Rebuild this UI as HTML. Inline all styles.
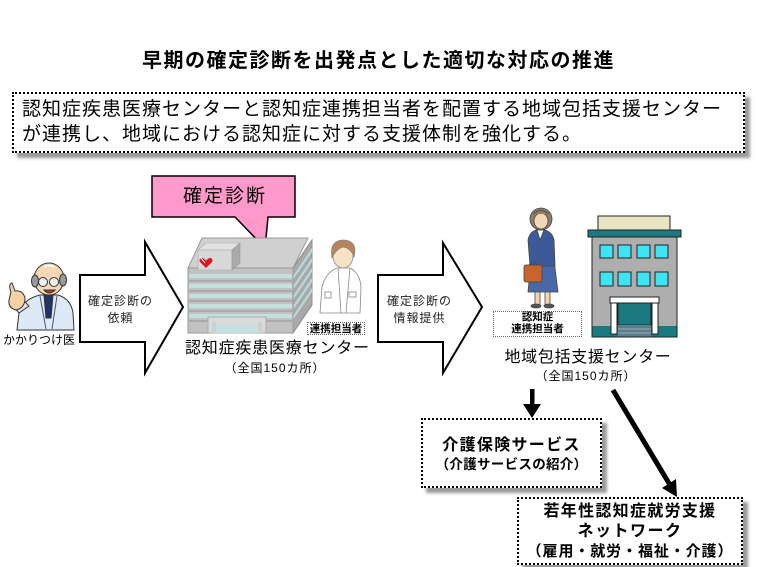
<!DOCTYPE html>
<html><head><meta charset="utf-8">
<style>
html,body{margin:0;padding:0;}
body{width:757px;height:567px;background:#fff;overflow:hidden;position:relative;font-family:"Liberation Sans","Noto Sans CJK JP",sans-serif;color:#000;}
.t{position:absolute;white-space:nowrap;line-height:1;}
.c{text-align:center;}
.box{position:absolute;box-sizing:border-box;border:2px dotted #000;background:#fff;box-shadow:5px 5px 3px #9a9a9a;}
.lbl{position:absolute;box-sizing:border-box;border:1px dotted #666;background:#fff;}
svg{position:absolute;left:0;top:0;}
</style></head>
<body>

<div class="t c" style="left:0;top:51px;width:757px;font-size:20px;letter-spacing:1.5px;font-weight:bold;">早期の確定診断を出発点とした適切な対応の推進</div>

<div class="box" style="left:12px;top:92px;width:733px;height:61px;"></div>
<div class="t" style="left:22px;top:100px;font-size:19px;letter-spacing:1px;">認知症疾患医療センターと認知症連携担当者を配置する地域包括支援センター</div>
<div class="t" style="left:22px;top:125px;font-size:19px;letter-spacing:1px;">が連携し、地域における認知症に対する支援体制を強化する。</div>

<svg width="757" height="567" viewBox="0 0 757 567">
  <!-- Callout -->
  <path d="M152,176 H295 V217 H268 L265,248 L235,217 H152 Z" fill="#ff99cc" stroke="#000" stroke-width="1.5"/>

  <!-- Arrow 1 -->
  <polygon points="80,275 145,275 145,242 183,307 145,373 145,342 80,342" fill="#fff" stroke="#000" stroke-width="2"/>
  <!-- Arrow 2 -->
  <polygon points="378,275 443,275 443,243 482,307 443,373 443,342 378,342" fill="#fff" stroke="#000" stroke-width="2"/>

  <!-- Doctor -->
  <g stroke="#333" stroke-width="1">
    <path d="M17,330 L19,313 Q23,299 40,295 L58,295 Q71,299 73,313 L74,330 Z" fill="#dde9f6"/>
    <path d="M44,295 L53,295 L51,318 L46,318 Z" fill="#223366"/>
    <line x1="40" y1="296" x2="46" y2="329" stroke="#556"/>
    <line x1="57" y1="296" x2="52" y2="329" stroke="#556"/>
    <path d="M19,313 L13,306 L22,299 L29,306 Z" fill="#dde9f6"/>
    <path d="M11,292 Q8,284 12,283 L15,291 Q23,290 25,298 Q25,308 16,310 Q8,308 9,300 Z" fill="#f6d2a6"/>
    <ellipse cx="49" cy="279" rx="15" ry="16" fill="#f6d8b4"/>
    <ellipse cx="35" cy="281" rx="3.5" ry="6" fill="#9a9a9a"/>
    <ellipse cx="63" cy="280" rx="3.5" ry="6" fill="#9a9a9a"/>
    <circle cx="43" cy="282" r="4.5" fill="#eef2f8"/>
    <circle cx="54" cy="282" r="4.5" fill="#eef2f8"/>
    <path d="M44,290 Q49,296 55,290 Z" fill="#c33"/>
    <path d="M44,267 Q49,264 54,267" fill="none" stroke="#fff" stroke-width="1.5"/>
  </g>

  <!-- Hospital -->
  <g>
    <polygon points="293,268 312,240 312,305 293,333" fill="#a9a9a9" stroke="#8a8a8a"/>
    <g fill="#b9d8d8">
      <polygon points="293,276 312,248 312,252 293,280"/>
      <polygon points="293,286 312,258 312,262 293,290"/>
      <polygon points="293,296 312,268 312,272 293,300"/>
      <polygon points="293,306 312,278 312,282 293,310"/>
      <polygon points="293,316 312,288 312,292 293,320"/>
    </g>
    <rect x="188" y="268" width="105" height="65" fill="#c2c2c2" stroke="#999"/>
    <g fill="#c4e0e0">
      <rect x="189" y="274" width="103" height="4"/>
      <rect x="189" y="284" width="103" height="4"/>
      <rect x="189" y="294" width="103" height="4"/>
      <rect x="189" y="304" width="103" height="4"/>
      <rect x="189" y="314" width="103" height="4"/>
    </g>
    <g fill="#a9a9a9">
      <rect x="189" y="280" width="103" height="2"/>
      <rect x="189" y="290" width="103" height="2"/>
      <rect x="189" y="300" width="103" height="2"/>
      <rect x="189" y="310" width="103" height="2"/>
      <rect x="189" y="320" width="103" height="2"/>
    </g>
    <polygon points="202,238 308,238 293,268 188,268" fill="#d0d0d0" stroke="#999"/>
    <polygon points="198,250 206,243 240,243 232,250" fill="#e2e2e2" stroke="#aaa" stroke-width="0.6"/>
    <polygon points="198,250 232,250 232,270 198,270" fill="#d8d8d8" stroke="#aaa" stroke-width="0.6"/>
    <polygon points="232,250 240,243 240,263 232,270" fill="#aaaaaa" stroke="#999" stroke-width="0.6"/>
    <path d="M206,261 C203,256 198,258 200,262 L206,268 L212,262 C214,258 209,256 206,261 Z" fill="#e8101a"/>
    <line x1="200" y1="257" x2="205" y2="263" stroke="#fff" stroke-width="1"/>
    <rect x="208" y="317" width="58" height="16" fill="#dadada" stroke="#aaa"/>
    <rect x="215" y="325" width="44" height="8" fill="#c4e0e0"/>
    <rect x="212" y="322" width="4" height="11" fill="#cfcfcf"/>
    <rect x="258" y="322" width="4" height="11" fill="#cfcfcf"/>
  </g>

  <!-- Male staff -->
  <g stroke="#888" stroke-width="0.8">
    <path d="M320,313 L322,287 Q326,272 337,268 L350,268 Q360,273 361,287 L360,313 Z" fill="#fff"/>
    <path d="M338,268 L341,313 M350,268 L346,313" fill="none"/>
    <rect x="325" y="292" width="6" height="6" fill="none"/>
    <rect x="349" y="292" width="7" height="5" fill="none"/>
    <ellipse cx="343" cy="256" rx="10" ry="12" fill="#f7e2c8"/>
    <path d="M332,258 Q329,240 344,240 Q358,241 354,257 Q351,248 343,247 Q336,249 332,258 Z" fill="#b7855a"/>
  </g>

  <!-- Woman -->
  <g stroke="#444" stroke-width="0.8">
    <rect x="535" y="290" width="5" height="15" fill="#f3d2ae"/>
    <rect x="545" y="290" width="5" height="15" fill="#f3d2ae"/>
    <ellipse cx="536" cy="306" rx="5" ry="2" fill="#555"/>
    <ellipse cx="549" cy="306" rx="5" ry="2" fill="#555"/>
    <path d="M531,260 L554,260 L558,292 L528,292 Z" fill="#4a68a8"/>
    <path d="M530,266 L528,240 Q530,230 540,229 Q552,230 554,240 L555,266 Z" fill="#3d5a98"/>
    <path d="M537,230 L540,240 L544,230 Z" fill="#fff"/>
    <rect x="524" y="265" width="18" height="17" rx="2" fill="#c8642e"/>
    <path d="M529,265 Q533,259 537,265" fill="none"/>
    <ellipse cx="541" cy="219" rx="11" ry="11" fill="#8c7c6c"/>
    <ellipse cx="541" cy="221" rx="7" ry="8" fill="#f3d6b6"/>
    <path d="M533,214 Q541,207 549,214" fill="#8c7c6c"/>
  </g>

  <!-- Right building -->
  <g>
    <rect x="598" y="216" width="72" height="14" fill="#e9e5c3" stroke="#222"/>
    <rect x="588" y="230" width="93" height="7" fill="#1b7a80" stroke="#222"/>
    <rect x="592" y="237" width="85" height="100" fill="#aeaeae" stroke="#222"/>
    <g fill="#3fe4f4" stroke="#222">
      <rect x="600" y="245" width="13" height="13"/>
      <rect x="618" y="245" width="13" height="13"/>
      <rect x="637" y="245" width="13" height="13"/>
      <rect x="655" y="245" width="13" height="13"/>
      <rect x="600" y="272" width="13" height="14"/>
      <rect x="618" y="272" width="13" height="14"/>
      <rect x="637" y="272" width="13" height="14"/>
      <rect x="655" y="272" width="13" height="14"/>
    </g>
    <rect x="592" y="326" width="85" height="11" fill="#1b7a80"/>
    <rect x="618" y="303" width="33" height="22" fill="#1b7a80" stroke="#222"/>
    <rect x="618" y="325" width="33" height="12" fill="#5a7f8a"/>
    <line x1="618" y1="329" x2="651" y2="329" stroke="#9ab"/>
    <line x1="618" y1="333" x2="651" y2="333" stroke="#9ab"/>
    <rect x="610" y="297" width="49" height="6" fill="#fff" stroke="#222"/>
    <rect x="611" y="303" width="6" height="31" fill="#fff" stroke="#222"/>
    <rect x="652" y="303" width="6" height="31" fill="#fff" stroke="#222"/>
    <rect x="592" y="237" width="85" height="100" fill="none" stroke="#222"/>
  </g>

  <!-- Down arrow -->
  <rect x="530" y="389" width="4.5" height="17" fill="#000"/>
  <polygon points="523,404 541,404 532,418" fill="#000"/>
  <!-- Diagonal arrow -->
  <line x1="613" y1="390" x2="670" y2="485" stroke="#000" stroke-width="5"/>
  <polygon points="677,497 676,479 662,488" fill="#000"/>
</svg>

<!-- Callout text -->
<div class="t" style="left:183px;top:187px;font-size:19px;letter-spacing:2px;">確定診断</div>

<!-- Arrow texts -->
<div class="t c" style="left:70px;top:295px;width:101px;font-size:12px;letter-spacing:1px;color:#222;">確定診断の</div>
<div class="t c" style="left:70px;top:312px;width:101px;font-size:12px;letter-spacing:1px;color:#222;">依頼</div>
<div class="t c" style="left:369px;top:295px;width:101px;font-size:12px;letter-spacing:1px;color:#222;">確定診断の</div>
<div class="t c" style="left:369px;top:312px;width:101px;font-size:12px;letter-spacing:1px;color:#222;">情報提供</div>

<div class="t c" style="left:0px;top:334px;width:78px;font-size:12px;">かかりつけ医</div>

<div class="t" style="left:185px;top:341px;font-size:16px;letter-spacing:0.8px;">認知症疾患医療センター</div>
<div class="t c" style="left:220px;top:362px;width:110px;font-size:12px;letter-spacing:1px;">（全国150カ所）</div>

<div class="lbl" style="left:307px;top:322px;width:58px;height:13px;"></div>
<div class="t c" style="left:307px;top:323.5px;width:58px;font-size:10.5px;font-weight:bold;">連携担当者</div>

<div class="lbl" style="left:493px;top:311px;width:89px;height:26px;"></div>
<div class="t c" style="left:493px;top:312px;width:89px;font-size:10.5px;font-weight:bold;">認知症</div>
<div class="t c" style="left:493px;top:324px;width:89px;font-size:10.5px;font-weight:bold;">連携担当者</div>

<div class="t c" style="left:488px;top:350px;width:200px;font-size:16px;letter-spacing:0.7px;">地域包括支援センター</div>
<div class="t c" style="left:531px;top:370px;width:110px;font-size:12px;letter-spacing:1px;">（全国150カ所）</div>

<!-- Box 1 -->
<div class="box" style="left:421px;top:418px;width:181px;height:70px;"></div>
<div class="t c" style="left:421px;top:438px;width:181px;font-size:16px;letter-spacing:1.3px;font-weight:bold;">介護保険サービス</div>
<div class="t c" style="left:421px;top:457.5px;width:181px;font-size:13.5px;letter-spacing:0.3px;font-weight:bold;">（介護サービスの紹介）</div>

<!-- Box 2 -->
<div class="box" style="left:517px;top:497px;width:226px;height:68px;"></div>
<div class="t c" style="left:517px;top:503.5px;width:226px;font-size:16px;letter-spacing:1.3px;font-weight:bold;">若年性認知症就労支援</div>
<div class="t c" style="left:517px;top:523.5px;width:226px;font-size:16px;letter-spacing:1.5px;font-weight:bold;">ネットワーク</div>
<div class="t c" style="left:517px;top:543.5px;width:226px;font-size:15px;letter-spacing:0.9px;font-weight:bold;">（雇用・就労・福祉・介護）</div>

</body></html>
